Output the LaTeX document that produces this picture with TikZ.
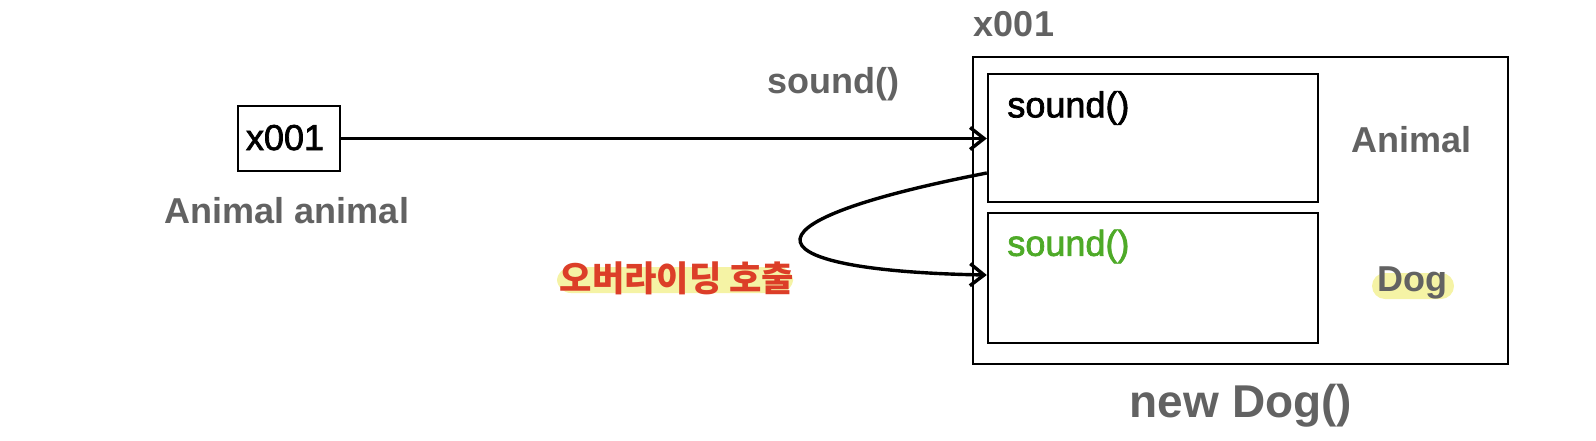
\documentclass[tikz,border=0pt]{standalone}
\usepackage{fontspec}
\usepackage{xcolor}
\usepackage{tikz}
\usetikzlibrary{positioning, arrows.meta, calc}
\setmainfont{Liberation Sans}
\newfontfamily\medfont{Liberation Sans}[FakeBold=2]
\newfontfamily\kofont{Noto Sans CJK KR}
\definecolor{labelgray}{RGB}{98,98,98}
\definecolor{callred}{RGB}{220,62,40}
\definecolor{childgreen}{RGB}{78,170,40}
\definecolor{marker}{RGB}{245,243,165}

\begin{document}
\begin{tikzpicture}[x=0.5pt, y=-0.5pt,
        basic/.style={draw, rectangle, line width=1.2pt, inner sep=0pt},
        caption/.style={inner sep=0pt, anchor=base, text=labelgray, font=\bfseries\fontsize{18}{21}\selectfont},
        method/.style={inner sep=0pt, anchor=west, font=\medfont\fontsize{18}{21}\selectfont},
        ref/.style={line width=1.7pt, -{Straight Barb[length=7pt, width=11pt, line width=1.7pt]}}
    ]
    \useasboundingbox (0,0) rectangle (1596,440);

    % reference variable
    \node[basic, minimum width=51pt, minimum height=32.5pt] (var) at (289,138.5) {};
    \node[inner sep=0pt, anchor=base, font=\medfont\fontsize{18}{21}\selectfont] (varval) at (285,150) {x001};
    \node[caption] (vartype) at (287,223) {Animal animal};

    % instance on the heap
    \node[basic, minimum width=267.5pt, minimum height=153.5pt] (obj) at (1240.5,210.5) {};
    \node[basic, minimum width=165pt, minimum height=64pt] (parent) at (1153,138) {};
    \node[basic, minimum width=165pt, minimum height=65pt] (child) at (1153,278) {};
    \node[caption] (addr) at (1014,36) {x001};
    \node[caption, font=\bfseries\fontsize{23}{26}\selectfont] (newdog) at (1241,417) {new Dog()};
    \node[caption] (parentname) at (1411.5,152) {Animal};
    \fill[marker, rounded corners=6.5pt] (1372,273) rectangle (1454,299);
    \node[caption] (childname) at (1412.5,291) {Dog};
    \node[method] (psound) at (1007,108) {sound()};
    \node[method, text=childgreen] (csound) at (1007,246.5) {sound()};

    % calls
    \node[caption, anchor=center] (call) at (833,84.5) {sound()};
    \draw[ref] (var.east) -- (var.east -| parent.west);
    \draw[ref] ([yshift=-17.5pt]parent.west) .. controls +(-268,52) and +(-228,-4) .. ([yshift=1.5pt]child.west);
    \fill[marker, rounded corners=7pt] (557,267) rectangle (793,293);
    \node[inner sep=0pt, text=callred, font=\kofont\bfseries\fontsize{17.6}{21}\selectfont] (override) at (677,278) {오버라이딩 호출};
\end{tikzpicture}
\end{document}
